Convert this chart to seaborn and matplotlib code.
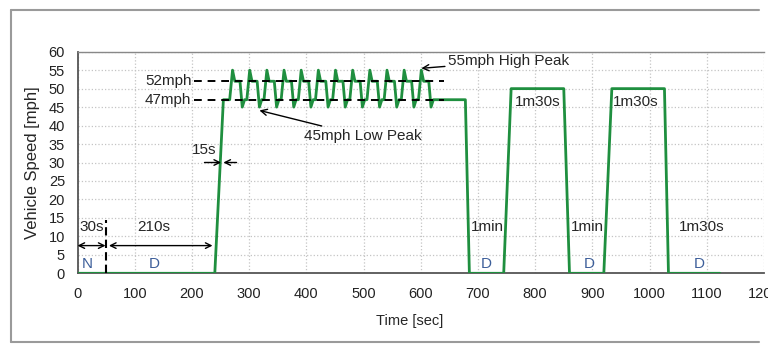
import matplotlib
matplotlib.use("Agg")
import matplotlib.pyplot as plt
from matplotlib.lines import Line2D
import seaborn as sns
import pandas as pd

# ---- data ----
time_s = [0, 240, 255, 266,
          271, 275, 284, 288, 292, 296,
          301, 305, 314, 318, 322, 326,
          331, 335, 344, 348, 352, 356,
          361, 365, 374, 378, 382, 386,
          391, 395, 404, 408, 412, 416,
          421, 425, 434, 438, 442, 446,
          451, 455, 464, 468, 472, 476,
          481, 485, 494, 498, 502, 506,
          511, 515, 524, 528, 532, 536,
          541, 545, 554, 558, 562, 566,
          571, 575, 584, 588, 592, 596,
          601, 605, 614, 618, 622,
          678, 685, 745, 758, 850, 860, 920, 934, 1026, 1033, 1123]
speed_mph = [0, 0, 47, 47,
             55, 52, 52, 45, 47, 47,
             55, 52, 52, 45, 47, 47,
             55, 52, 52, 45, 47, 47,
             55, 52, 52, 45, 47, 47,
             55, 52, 52, 45, 47, 47,
             55, 52, 52, 45, 47, 47,
             55, 52, 52, 45, 47, 47,
             55, 52, 52, 45, 47, 47,
             55, 52, 52, 45, 47, 47,
             55, 52, 52, 45, 47, 47,
             55, 52, 52, 45, 47, 47,
             55, 52, 52, 45, 47,
             47, 0, 0, 50, 50, 0, 0, 50, 50, 0, 0]

x_ticks = [0, 100, 200, 300, 400, 500, 600, 700, 800, 900, 1000, 1100, 1200]
y_ticks = [0, 5, 10, 15, 20, 25, 30, 35, 40, 45, 50, 55, 60]

ref_levels = [52, 47]
ref_labels = ["52mph", "47mph"]

gear_labels = ["N", "D", "D", "D", "D"]
gear_pos = [17, 135, 714, 895, 1086]

dur_labels = ["30s", "210s", "1min", "1min", "1m30s", "1m30s", "1m30s", "15s"]
dur_pos_x = [3, 105, 688, 863, 1052, 764, 935, 200]
dur_pos_y = [12.6, 12.6, 12.6, 12.6, 12.6, 46.5, 46.5, 33.5]

df = pd.DataFrame({"Time": time_s, "Speed": speed_mph})

sns.set_style("white")
plt.rcParams["font.family"] = ["Liberation Sans", "DejaVu Sans"]

W, H = 768, 352
fig = plt.figure(figsize=(W / 100, H / 100), dpi=100)
L, R, T, B = 77.5, 764, 51.7, 273.3
ax = fig.add_axes([L / W, (H - B) / H, (R - L) / W, (B - T) / H])

# outer frame
fc = "#9a9a9a"
fig.add_artist(Line2D([10.5 / W, 759 / W], [1 - 10 / H, 1 - 10 / H], transform=fig.transFigure, color=fc, lw=1.5))
fig.add_artist(Line2D([10.5 / W, 759 / W], [1 - 342 / H, 1 - 342 / H], transform=fig.transFigure, color=fc, lw=1.5))
fig.add_artist(Line2D([10.5 / W, 10.5 / W], [1 - 10 / H, 1 - 342 / H], transform=fig.transFigure, color=fc, lw=1.5))

sns.lineplot(data=df, x="Time", y="Speed", ax=ax, sort=False, estimator=None,
             color="#1f8f3f", lw=2.0, zorder=3)

ax.set_xlim(0, 1200)
ax.set_ylim(0, 60)
ax.set_xticks(x_ticks)
ax.set_yticks(y_ticks)
ax.grid(True, color="#c4c4c4", ls=":", lw=0.9)
ax.tick_params(axis="both", length=0, labelsize=10.5, colors="#222222")
ax.tick_params(axis="x", pad=10)
ax.tick_params(axis="y", pad=9)
for s in ["left", "bottom"]:
    ax.spines[s].set_color("#555555")
    ax.spines[s].set_linewidth(1.3)
ax.spines["top"].set_color("#888888")
ax.spines["top"].set_linewidth(1.0)
ax.spines["right"].set_visible(False)

ax.set_xlabel("Time [sec]", fontsize=10.5)
ax.set_ylabel("Vehicle Speed [mph]", fontsize=12)
ax.xaxis.set_label_coords(0.484, -0.185)
ax.yaxis.set_label_coords(-0.055, 0.5)

# reference speed dashed lines
for lvl, lab in zip(ref_levels, ref_labels):
    ax.hlines(lvl, 203, 640, colors="black", linestyles=(0, (4, 3)), lw=1.4, zorder=4)
    ax.text(199, lvl, lab, ha="right", va="center", fontsize=11)

# peak annotations
arrow = dict(arrowstyle="->", color="black", lw=1.0, shrinkA=0, shrinkB=0)
ax.annotate("55mph High Peak", xy=(601, 55.5), xytext=(648, 57.4), fontsize=11,
            va="center", ha="left", arrowprops=arrow)
ax.annotate("45mph Low Peak", xy=(318, 44.1), xytext=(396, 37.1), fontsize=11,
            va="center", ha="left", arrowprops=arrow)

# 15s arrows
ax.annotate("", xy=(251, 30), xytext=(222, 30), arrowprops=arrow)
ax.annotate("", xy=(255, 30), xytext=(278, 30), arrowprops=arrow)

# 30s / 210s double arrows
darrow = dict(arrowstyle="<->", color="black", lw=1.0, shrinkA=0, shrinkB=0)
ax.annotate("", xy=(0, 7.5), xytext=(49, 7.5), arrowprops=darrow)
ax.annotate("", xy=(55, 7.5), xytext=(236, 7.5), arrowprops=darrow)
ax.vlines(50, 0, 14.5, colors="black", linestyles=(0, (4, 2)), lw=1.5, zorder=4)

for lab, x, y in zip(dur_labels, dur_pos_x, dur_pos_y):
    ax.text(x, y, lab, ha="left", va="center", fontsize=11, zorder=5)

for lab, x in zip(gear_labels, gear_pos):
    ax.text(x, 2.6, lab, ha="center", va="center", fontsize=11, color="#3d5f9a", zorder=5)

fig.savefig("out.png", dpi=100)
